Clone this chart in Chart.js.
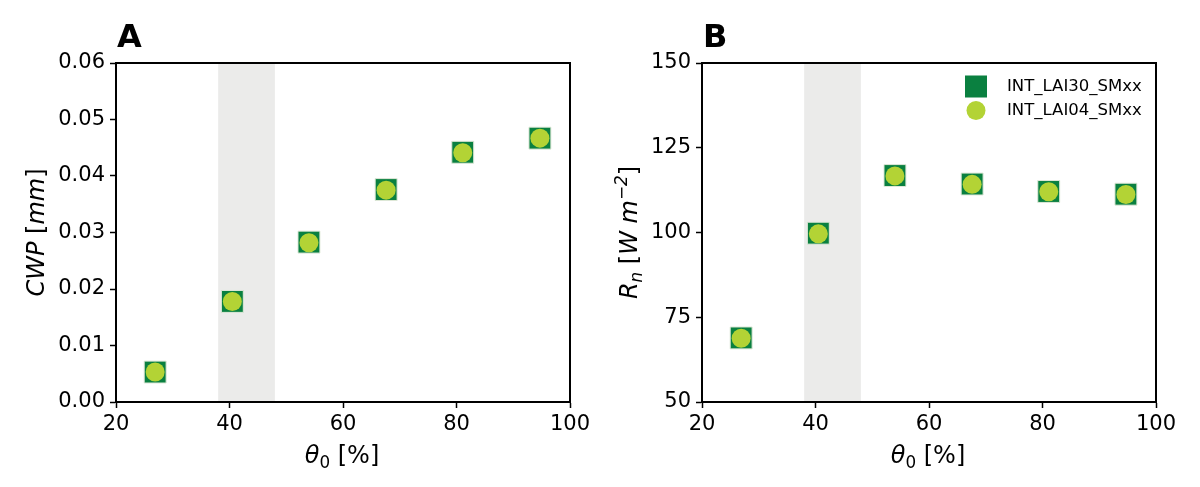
<!DOCTYPE html>
<html>
<head>
<meta charset="utf-8">
<script src="https://cdn.jsdelivr.net/npm/chart.js@4.4.1/dist/chart.umd.min.js"></script>
<style>
  body { margin: 0; background: #fff; }
  .panel { position: absolute; top: 0; width: 600px; height: 487px; }
  #panelA { left: 0; }
  #panelB { left: 600px; }
</style>
</head>
<body>
<div class="panel" id="panelA"><canvas id="chartA" width="600" height="487"></canvas></div>
<div class="panel" id="panelB"><canvas id="chartB" width="600" height="487"></canvas></div>
<script>
// soil moisture (x) shared by both panels
const theta0 = [26.9, 40.5, 54.0, 67.6, 81.1, 94.7];

// panel A: cloud water path
const cwpLai30 = [0.0053, 0.0178, 0.0283, 0.0376, 0.0442, 0.0467];
const cwpLai04 = [0.0053, 0.0178, 0.0282, 0.0375, 0.0441, 0.0467];

// panel B: net radiation
const rnLai30 = [68.9, 99.8, 116.8, 114.3, 112.1, 111.3];
const rnLai04 = [68.8, 99.6, 116.7, 114.2, 112.0, 111.2];

const seriesNames = ["INT_LAI30_SMxx", "INT_LAI04_SMxx"];
const shadeRange = [38, 48];

const FONT = "'DejaVu Sans', sans-serif";
const SQUARE = "#0a8040";
const CIRCLE = "#b3d335";

function toPoints(xs, ys) {
    return xs.map((x, i) => ({ x: x, y: ys[i] }));
}

// draws a row of text pieces (italic, sub/superscript) centred on (cx, baseline)
function richText(ctx, pieces, cx, baseline, size) {
    let total = 0;
    pieces.forEach(p => {
        const s = p.small ? size * 0.7 : size;
        ctx.font = (p.italic ? "italic " : "") + s + "px " + FONT;
        p.w = ctx.measureText(p.t).width;
        total += p.w;
    });
    let x = cx - total / 2;
    pieces.forEach(p => {
        const s = p.small ? size * 0.7 : size;
        ctx.font = (p.italic ? "italic " : "") + s + "px " + FONT;
        ctx.fillText(p.t, x, baseline + (p.dy || 0));
        x += p.w;
    });
}

const panelPlugin = {
    id: "panelPlugin",
    beforeDatasetsDraw(chart, args, opts) {
        const { ctx, chartArea, scales } = chart;
        const x0 = scales.x.getPixelForValue(shadeRange[0]);
        const x1 = scales.x.getPixelForValue(shadeRange[1]);
        ctx.save();
        ctx.fillStyle = "#ebebea";
        ctx.fillRect(x0, chartArea.top, x1 - x0, chartArea.bottom - chartArea.top);
        ctx.restore();
    },
    afterDraw(chart, args, opts) {
        const { ctx, chartArea } = chart;
        ctx.save();
        // frame
        ctx.strokeStyle = "#000";
        ctx.lineWidth = 2;
        ctx.strokeRect(chartArea.left, chartArea.top, chartArea.right - chartArea.left, chartArea.bottom - chartArea.top);

        ctx.fillStyle = "#000";
        ctx.textBaseline = "alphabetic";
        ctx.textAlign = "left";

        // panel letter
        ctx.font = "bold 32px " + FONT;
        ctx.fillText(opts.letter, chartArea.left + 1, 47);

        // x title
        const cx = (chartArea.left + chartArea.right) / 2;
        richText(ctx, [
            { t: "\u03b8", italic: true },
            { t: "0", small: true, dy: 5 },
            { t: " [%]" }
        ], cx - 1, 463, 24);

        // y title (rotated)
        const cy = (chartArea.top + chartArea.bottom) / 2;
        ctx.translate(opts.yTitleX, cy);
        ctx.rotate(-Math.PI / 2);
        richText(ctx, opts.yTitle, 0, 8, 24);
        ctx.restore();

        if (opts.legend) {
            ctx.save();
            const lx = chartArea.right - 180;
            ctx.fillStyle = SQUARE;
            ctx.fillRect(lx - 11, 75.5, 22, 22);
            ctx.fillStyle = CIRCLE;
            ctx.beginPath();
            ctx.arc(lx, 110.5, 9.5, 0, Math.PI * 2);
            ctx.fill();
            ctx.fillStyle = "#000";
            ctx.font = "16.5px " + FONT;
            ctx.textBaseline = "middle";
            ctx.fillText(seriesNames[0], lx + 31, 87);
            ctx.fillText(seriesNames[1], lx + 31, 111);
            ctx.restore();
        }
    }
};

function makeChart(id, sq, ci, yMin, yMax, yStep, yDigits, yWidth, padRight, extra) {
    return new Chart(document.getElementById(id), {
        type: "scatter",
        data: {
            datasets: [
                {
                    label: seriesNames[0],
                    data: toPoints(theta0, sq),
                    order: 2,
                    pointStyle: "rect",
                    pointRadius: 15.5,
                    pointHoverRadius: 15.5,
                    backgroundColor: SQUARE,
                    borderColor: "#dfe8d8",
                    borderWidth: 1
                },
                {
                    label: seriesNames[1],
                    data: toPoints(theta0, ci),
                    order: 1,
                    pointStyle: "circle",
                    pointRadius: 9.5,
                    pointHoverRadius: 9.5,
                    backgroundColor: CIRCLE,
                    borderWidth: 0
                }
            ]
        },
        options: {
            responsive: false,
            animation: false,
            devicePixelRatio: 1,
            layout: { padding: { top: 63, right: padRight, left: 0, bottom: 0 } },
            plugins: {
                legend: { display: false },
                tooltip: { enabled: false },
                panelPlugin: extra
            },
            scales: {
                x: {
                    type: "linear",
                    min: 20,
                    max: 100,
                    ticks: { stepSize: 20, color: "#000", font: { family: FONT, size: 21 }, padding: 4, maxRotation: 0 },
                    grid: { drawOnChartArea: false, drawTicks: true, tickLength: 6, color: "#000", tickWidth: 1.5 },
                    border: { display: true, color: "#000", width: 2 },
                    afterFit(scale) { scale.height = 85; }
                },
                y: {
                    type: "linear",
                    min: yMin,
                    max: yMax,
                    ticks: {
                        stepSize: yStep,
                        color: "#000",
                        font: { family: FONT, size: 21 },
                        padding: 5,
                        callback: v => v.toFixed(yDigits)
                    },
                    grid: { drawOnChartArea: false, drawTicks: true, tickLength: 6, color: "#000", tickWidth: 1.5 },
                    border: { display: true, color: "#000", width: 2 },
                    afterFit(scale) { scale.width = yWidth; }
                }
            }
        },
        plugins: [panelPlugin]
    });
}

makeChart("chartA", cwpLai30, cwpLai04, 0, 0.06, 0.01, 2, 116, 30, {
    letter: "A",
    yTitleX: 36,
    yTitle: [
        { t: "CWP", italic: true },
        { t: " [" },
        { t: "mm", italic: true },
        { t: "]" }
    ],
    legend: false
});

makeChart("chartB", rnLai30, rnLai04, 50, 150, 25, 0, 102, 44, {
    letter: "B",
    yTitleX: 29,
    yTitle: [
        { t: "R", italic: true },
        { t: "n", italic: true, small: true, dy: 5 },
        { t: " [" },
        { t: "W m", italic: true },
        { t: "\u22122", italic: true, small: true, dy: -10 },
        { t: "]" }
    ],
    legend: true
});
</script>
</body>
</html>
